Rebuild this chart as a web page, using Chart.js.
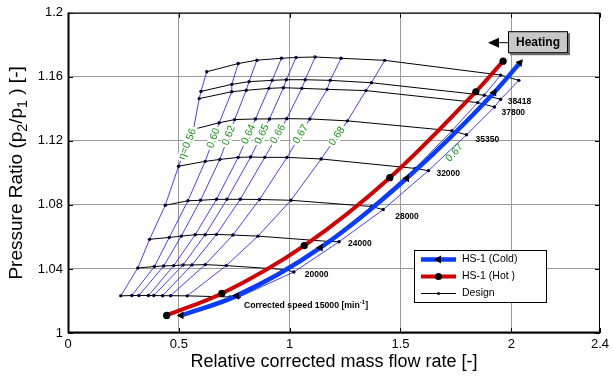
<!DOCTYPE html>
<html>
<head>
<meta charset="utf-8">
<script src="https://cdn.jsdelivr.net/npm/chart.js@4.4.0/dist/chart.umd.min.js"></script>
<style>
  html, body { margin: 0; padding: 0; background: #fff; }
</style>
</head>
<body>
<canvas id="c" width="613" height="376"></canvas>
<script>
// axis ticks
const xTicks = [0, 0.5, 1, 1.5, 2, 2.4];
const yTicks = [1, 1.04, 1.08, 1.12, 1.16, 1.2];

// design speed lines: 8 points on eta = 0.56 ... 0.68 (surge side), then 2 on the choke side
const x15000 = [0.238, 0.288, 0.320, 0.363, 0.387, 0.427, 0.463, 0.538, 0.731, 0.771];
const pr15000 = [1.0232, 1.0234, 1.0234, 1.0234, 1.0234, 1.0233, 1.0233, 1.0232, 1.0225, 1.0224];
const x20000 = [0.315, 0.390, 0.432, 0.477, 0.519, 0.559, 0.619, 0.714, 0.981, 1.019];
const pr20000 = [1.0406, 1.0415, 1.0419, 1.0421, 1.0425, 1.0425, 1.0427, 1.0421, 1.0396, 1.0381];
const x24000 = [0.368, 0.457, 0.511, 0.574, 0.619, 0.670, 0.744, 0.857, 1.175, 1.223];
const pr24000 = [1.0585, 1.0597, 1.0605, 1.0614, 1.0614, 1.0616, 1.0612, 1.0605, 1.0572, 1.0570];
const x28000 = [0.439, 0.541, 0.598, 0.670, 0.717, 0.777, 0.864, 1.006, 1.369, 1.422];
const pr28000 = [1.0798, 1.0826, 1.0829, 1.0835, 1.0835, 1.0835, 1.0834, 1.0829, 1.0790, 1.0771];
const x32000 = [0.499, 0.619, 0.685, 0.768, 0.824, 0.888, 0.988, 1.142, 1.566, 1.626];
const pr32000 = [1.1042, 1.1072, 1.1084, 1.1097, 1.1099, 1.1097, 1.1097, 1.1087, 1.1028, 1.1014];
const x35350 = [0.566, 0.682, 0.752, 0.846, 0.909, 0.987, 1.091, 1.261, 1.732, 1.798];
const pr35350 = [1.1272, 1.1313, 1.1333, 1.1337, 1.1337, 1.1339, 1.1337, 1.1325, 1.1263, 1.1238];
const x37800 = [0.592, 0.739, 0.804, 0.906, 0.972, 1.055, 1.169, 1.344, 1.848, 1.924];
const pr37800 = [1.1464, 1.1507, 1.1516, 1.1528, 1.1532, 1.1528, 1.1522, 1.1514, 1.1439, 1.1412];
const x38418 = [0.600, 0.739, 0.817, 0.921, 0.985, 1.070, 1.183, 1.369, 1.878, 1.952];
const pr38418 = [1.1509, 1.1553, 1.1570, 1.1578, 1.1582, 1.1582, 1.1578, 1.1563, 1.1485, 1.1460];
const xTop = [0.626, 0.768, 0.852, 0.963, 1.029, 1.115, 1.232, 1.429, 1.952, 2.034];
const prTop = [1.1632, 1.1683, 1.1704, 1.1716, 1.1721, 1.1724, 1.1716, 1.1703, 1.1611, 1.1578];

const speedNames = ['15000', '20000', '24000', '28000', '32000', '35350', '37800', '38418', ''];
const etaNames = ['\u03b7=0.56', '0.60', '0.62', '0.64', '0.65', '0.66', '0.67', '0.68'];
const etaChokeName = '0.67';

// operating lines
const hotX = [0.445, 0.694, 1.066, 1.452, 1.840, 1.963];
const hotPR = [1.0110, 1.0247, 1.0546, 1.0970, 1.1507, 1.1698];
const coldX = [0.511, 0.761, 1.139, 1.528, 1.922, 2.039];
const coldPR = [1.0110, 1.0232, 1.0533, 1.0966, 1.1501, 1.1688];

const speedX = [x15000, x20000, x24000, x28000, x32000, x35350, x37800, x38418, xTop];
const speedPR = [pr15000, pr20000, pr24000, pr28000, pr32000, pr35350, pr37800, pr38418, prTop];

const FONT = '"Liberation Sans", Arial, Helvetica, sans-serif';
const BLUE = '#0a3cff';
const RED = '#d00000';
const THIN_BLUE = 'rgba(45,45,255,0.9)';

const pts = (xs, ys) => xs.map((v, i) => ({ x: v, y: ys[i] }));

const datasets = [];
// operating lines first so they are painted on top
datasets.push({
    label: 'HS-1 (Cold)',
    data: pts(coldX, coldPR),
    showLine: true,
    borderColor: BLUE,
    borderWidth: 4.5,
    cubicInterpolationMode: 'monotone',
    pointStyle: 'triangle',
    pointRotation: coldX.map((v, i) => i === coldX.length - 1 ? 41 : -90),
    pointRadius: 4.5,
    pointBackgroundColor: '#000',
    pointBorderColor: '#000',
    pointBorderWidth: 0
});
datasets.push({
    label: 'HS-1 (Hot )',
    data: pts(hotX, hotPR),
    showLine: true,
    borderColor: RED,
    borderWidth: 4,
    cubicInterpolationMode: 'monotone',
    pointRadius: 3.6,
    pointBackgroundColor: '#000',
    pointBorderColor: '#000',
    pointBorderWidth: 0
});
// speed lines
speedX.forEach((xs, k) => {
    datasets.push({
        label: 'Design',
        data: pts(xs, speedPR[k]),
        showLine: true,
        borderColor: '#000',
        borderWidth: 1,
        pointRadius: 1.7,
        pointBackgroundColor: '#000033',
        pointBorderWidth: 0
    });
});
// efficiency lines, built from the same points (column i of every speed line)
for (let i = 0; i < 10; i++) {
    datasets.push({
        label: 'eta',
        data: speedX.map((xs, k) => ({ x: xs[i], y: speedPR[k][i] })),
        showLine: true,
        borderColor: THIN_BLUE,
        borderWidth: 1,
        pointRadius: 0
    });
}

// text with sub/superscripts: parts = [text, 0 normal | 1 sub | 2 sup]
function drawRich(ctx, parts, x0, cy, size, weight, align, ratio) {
    const r = ratio || 0.7;
    const f = s => weight + ' ' + s + 'px ' + FONT;
    let w = 0;
    parts.forEach(p => { ctx.font = f(p[1] ? size * r : size); w += ctx.measureText(p[0]).width; });
    let x = align === 'center' ? x0 - w / 2 : x0;
    ctx.textAlign = 'left';
    ctx.textBaseline = 'middle';
    parts.forEach(p => {
        const s = p[1] ? size * r : size;
        ctx.font = f(s);
        const dy = p[1] === 1 ? size * 0.32 : p[1] === 2 ? -size * 0.35 : 0;
        ctx.fillText(p[0], x, cy + dy);
        x += ctx.measureText(p[0]).width;
    });
}

const decor = {
    id: 'decor',
    afterDraw(chart) {
        const { ctx, chartArea: a } = chart;
        const sx = chart.scales.x, sy = chart.scales.y;
        const px = v => sx.getPixelForValue(v);
        const py = v => sy.getPixelForValue(v);
        ctx.save();

        // efficiency labels, cut into the lines between 32000 and 35350
        ctx.font = '10.5px ' + FONT;
        ctx.textAlign = 'center';
        ctx.textBaseline = 'middle';
        etaNames.forEach((t, i) => {
            const ax = px(x32000[i]), ay = py(pr32000[i]);
            const bx = px(x35350[i]), by = py(pr35350[i]);
            const cx = ax + (bx - ax) * 0.6, cy = ay + (by - ay) * 0.6;
            ctx.save();
            ctx.translate(cx, cy);
            ctx.rotate(Math.atan2(by - ay, bx - ax));
            const w = ctx.measureText(t).width + 4;
            ctx.fillStyle = '#fff';
            ctx.fillRect(-w / 2, -5, w, 10);
            ctx.fillStyle = '#1a961a';
            ctx.fillText(t, 0, 0);
            ctx.restore();
        });
        {
            const ax = px(x32000[9]), ay = py(pr32000[9]);
            const bx = px(x35350[9]), by = py(pr35350[9]);
            ctx.save();
            ctx.translate(ax + (bx - ax) * 0.5 + 7, ay + (by - ay) * 0.5);
            ctx.rotate(Math.atan2(by - ay, bx - ax) - 0.08);
            ctx.fillStyle = '#1a961a';
            ctx.fillText(etaChokeName, 0, 0);
            ctx.restore();
        }

        // speed labels
        const offs = [[5, 8], [11, 3], [9, 1.5], [12, 7], [8, 3], [9, 4.5], [7, 6], [7, 2]];
        ctx.fillStyle = '#000';
        speedNames.forEach((t, k) => {
            if (!t) return;
            const xs = speedX[k], ys = speedPR[k];
            const ex = px(xs[xs.length - 1]) + offs[k][0];
            const ey = py(ys[ys.length - 1]) + offs[k][1];
            if (k === 0) {
                drawRich(ctx, [['Corrected speed ' + t + ' [min', 0], ['-1', 2], [']', 0]], ex, ey, 8.7, 'bold', 'left');
            } else {
                ctx.font = 'bold 8.5px ' + FONT;
                ctx.textAlign = 'left';
                ctx.textBaseline = 'middle';
                ctx.fillText(t, ex, ey);
            }
        });

        // Heating box with arrow
        const hx = px(1.985), hy = py(1.1885);
        ctx.fillStyle = '#6e6e6e';
        ctx.fillRect(hx + 2, hy + 2, 60, 22);
        ctx.fillStyle = '#c8c8c8';
        ctx.fillRect(hx, hy, 60, 22);
        ctx.strokeStyle = '#000';
        ctx.lineWidth = 1;
        ctx.strokeRect(hx + 0.5, hy + 0.5, 59, 21);
        ctx.fillStyle = '#000';
        ctx.font = 'bold 12px ' + FONT;
        ctx.textAlign = 'center';
        ctx.textBaseline = 'middle';
        ctx.fillText('Heating', hx + 30, hy + 11.5);
        ctx.beginPath();
        ctx.moveTo(hx, hy + 11.5);
        ctx.lineTo(hx - 10, hy + 11.5);
        ctx.stroke();
        ctx.beginPath();
        ctx.moveTo(hx - 20, hy + 11.5);
        ctx.lineTo(hx - 9, hy + 6.5);
        ctx.lineTo(hx - 9, hy + 16.5);
        ctx.closePath();
        ctx.fill();

        // legend box
        const lx = Math.round(px(1.561)), ly = Math.round(py(1.0516));
        ctx.fillStyle = '#fff';
        ctx.fillRect(lx, ly, 132, 52);
        ctx.strokeStyle = '#000';
        ctx.lineWidth = 1;
        ctx.strokeRect(lx + 0.5, ly + 0.5, 132, 52);
        const rows = [
            { t: 'HS-1 (Cold)', c: BLUE, w: 4.5, m: 'tri' },
            { t: 'HS-1 (Hot )', c: RED, w: 4, m: 'dot' },
            { t: 'Design', c: '#000', w: 1, m: 'small' }
        ];
        rows.forEach((r, i) => {
            const ry = ly + 9.5 + i * 17;
            ctx.strokeStyle = r.c;
            ctx.lineWidth = r.w;
            ctx.beginPath();
            ctx.moveTo(lx + 7, ry);
            ctx.lineTo(lx + 42, ry);
            ctx.stroke();
            ctx.fillStyle = '#000';
            const mx = lx + 24.5;
            ctx.beginPath();
            if (r.m === 'tri') {
                ctx.moveTo(mx - 4.5, ry);
                ctx.lineTo(mx + 2.5, ry - 4);
                ctx.lineTo(mx + 2.5, ry + 4);
                ctx.closePath();
            } else if (r.m === 'dot') {
                ctx.arc(mx, ry, 3.5, 0, Math.PI * 2);
            } else {
                ctx.arc(mx, ry, 1.5, 0, Math.PI * 2);
            }
            ctx.fill();
            ctx.font = '10.5px ' + FONT;
            ctx.textAlign = 'left';
            ctx.textBaseline = 'middle';
            ctx.fillText(r.t, lx + 48, ry);
        });

        // axes box and inward ticks
        ctx.strokeStyle = '#000';
        ctx.lineWidth = 1;
        ctx.strokeRect(a.left + 0.5, a.top + 0.5, a.right - a.left - 1, a.bottom - a.top - 1);
        ctx.lineWidth = 2;
        ctx.beginPath();
        ctx.moveTo(a.left, a.bottom - 0.5);
        ctx.lineTo(a.right, a.bottom - 0.5);
        ctx.moveTo(a.left + 0.5, a.top);
        ctx.lineTo(a.left + 0.5, a.bottom);
        ctx.stroke();
        ctx.lineWidth = 1;
        ctx.beginPath();
        xTicks.forEach(v => {
            const x = Math.round(px(v)) + 0.5;
            ctx.moveTo(x, a.bottom); ctx.lineTo(x, a.bottom - 5);
            ctx.moveTo(x, a.top); ctx.lineTo(x, a.top + 5);
        });
        yTicks.forEach(v => {
            const y = Math.round(py(v)) + 0.5;
            ctx.moveTo(a.left, y); ctx.lineTo(a.left + 5, y);
            ctx.moveTo(a.right, y); ctx.lineTo(a.right - 5, y);
        });
        ctx.stroke();

        // axis titles
        ctx.fillStyle = '#000';
        ctx.font = '18px ' + FONT;
        ctx.textAlign = 'center';
        ctx.textBaseline = 'middle';
        ctx.fillText('Relative corrected mass flow rate [-]', (a.left + a.right) / 2, 362);
        ctx.save();
        ctx.translate(17, (a.top + a.bottom) / 2);
        ctx.rotate(-Math.PI / 2);
        drawRich(ctx, [['Pressure Ratio (p', 0], ['2', 1], ['/p', 0], ['1', 1], [' ) [-]', 0]], 0, 0, 19, 'normal', 'center', 0.75);
        ctx.restore();

        ctx.restore();
    }
};

new Chart(document.getElementById('c'), {
    type: 'scatter',
    data: { datasets: datasets },
    options: {
        responsive: false,
        animation: false,
        layout: { padding: { left: 0, right: 8, top: 12, bottom: 0 } },
        plugins: { legend: { display: false }, tooltip: { enabled: false } },
        elements: { line: { tension: 0 } },
        scales: {
            x: {
                type: 'linear', min: 0, max: 2.4,
                afterBuildTicks: s => { s.ticks = xTicks.map(v => ({ value: v })); },
                afterFit: s => { s.height = 43; },
                grid: { color: '#9a9a9a', drawTicks: false },
                border: { display: false },
                ticks: {
                    padding: 4, color: '#000', autoSkip: false, maxRotation: 0,
                    font: { family: FONT, size: 13 },
                    callback: v => String(v)
                }
            },
            y: {
                type: 'linear', min: 1, max: 1.2,
                afterBuildTicks: s => { s.ticks = yTicks.map(v => ({ value: v })); },
                afterFit: s => { s.width = 68; },
                grid: { color: '#9a9a9a', drawTicks: false },
                border: { display: false },
                ticks: {
                    padding: 5, color: '#000', autoSkip: false,
                    font: { family: FONT, size: 13 },
                    callback: v => String(v)
                }
            }
        }
    },
    plugins: [decor]
});
</script>
</body>
</html>
